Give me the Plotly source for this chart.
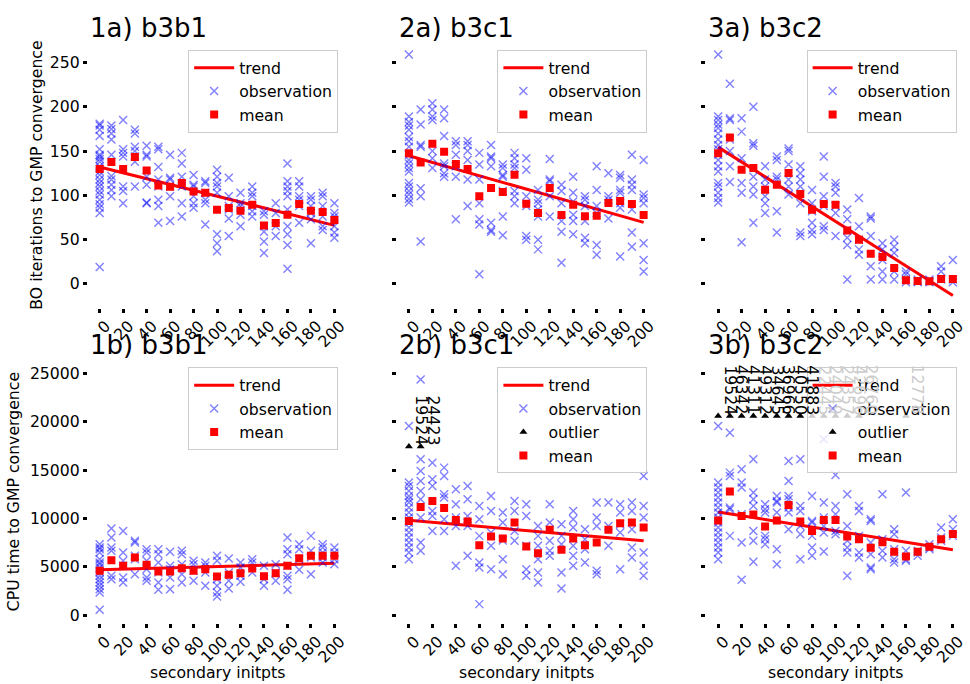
import plotly.graph_objects as go

W, H = 970, 684
x_levels = [0, 10, 20, 30, 40, 50, 60, 70, 80, 90, 100, 110, 120, 130, 140, 150, 160, 170, 180, 190, 200]
x_ticks = [0, 20, 40, 60, 80, 100, 120, 140, 160, 180, 200]
y_ticks_top = [0, 50, 100, 150, 200, 250]
y_ticks_bottom = [0, 5000, 10000, 15000, 20000, 25000]

titles = ["1a) b3b1", "2a) b3c1", "3a) b3c2", "1b) b3b1", "2b) b3c1", "3b) b3c2"]
ylabel_top = "BO iterations to GMP convergence"
ylabel_bottom = "CPU time to GMP convergence"
xlabel = "secondary initpts"

# ---------------- 1a ----------------
obs_1a = [
    [181, 179, 174, 167, 152, 146, 144, 141, 138, 133, 127, 123, 118, 114, 110, 105, 101, 95, 90, 86, 80, 19],
    [179, 175, 170, 163, 146, 122, 118, 112, 106, 99],
    [185, 152, 148, 144, 110, 105, 91],
    [174, 170, 155, 150, 144, 138, 110],
    [156, 146, 144, 121, 112, 92, 91],
    [155, 152, 132, 118, 110, 95, 88, 69],
    [146, 120, 118, 110, 99, 71],
    [148, 136, 121, 110, 91, 76],
    [123, 112, 110, 99, 91, 86],
    [116, 114, 103, 95, 91, 67],
    [129, 121, 114, 110, 103, 56, 46, 37],
    [120, 99, 88, 84, 74, 54],
    [103, 91, 88, 78, 65],
    [110, 103, 99, 88, 82, 76],
    [82, 78, 65, 59, 48, 35],
    [91, 80, 65, 54],
    [136, 116, 110, 105, 99, 84, 65, 56, 44, 17],
    [116, 110, 99, 95, 88, 69],
    [99, 95, 88, 80, 73, 46],
    [103, 99, 88, 76, 65, 61],
    [91, 80, 76, 65, 58, 52],
]
mean_1a = [129.7, 137.6, 129.7, 143.3, 128.2, 111.2, 109.8, 113.9, 104.5, 103.0, 83.8,
           85.7, 82.7, 89.5, 66.1, 68.8, 78.2, 90.2, 82.7, 81.2, 72.2]
trend_1a = [132.0, 66.1]

# ---------------- 2a ----------------
obs_2a = [
    [259, 189, 183, 179, 174, 166, 161, 155, 146, 140, 136, 131, 127, 114, 110, 105, 101, 96, 92],
    [197, 180, 157, 155, 108, 99, 48],
    [204, 197, 189, 185, 150, 142, 131],
    [197, 187, 167, 136, 133, 125, 121],
    [161, 157, 146, 133, 121, 73],
    [161, 157, 150, 140, 118, 88],
    [148, 135, 118, 91, 73, 67, 11],
    [157, 144, 142, 133, 69, 61, 59],
    [135, 131, 123, 121, 105, 76, 55],
    [148, 142, 135, 131, 105, 99, 91],
    [142, 129, 99, 88, 54, 50],
    [106, 95, 91, 84, 76, 50, 39],
    [141, 118, 116, 99, 76],
    [112, 105, 91, 71, 59, 24],
    [121, 103, 93, 78, 71, 56],
    [99, 95, 88, 71, 52, 46],
    [133, 106, 88, 80, 44, 33],
    [125, 99, 95, 74],
    [123, 120, 106, 103, 91, 86, 31],
    [146, 118, 112, 106, 84, 58, 42],
    [140, 101, 97, 91, 46, 27, 14],
]
mean_2a = [147.7, 137.2, 158.3, 149.2, 135.3, 129.7, 98.9, 108.3, 103.8, 123.3, 90.6,
           80.1, 108.3, 77.8, 89.5, 76.3, 77.1, 91.4, 93.6, 90.2, 77.8]
trend_2a = [144.7, 69.5]

# ---------------- 3a ----------------
obs_3a = [
    [259, 189, 185, 180, 176, 170, 163, 157, 152, 146, 140, 133, 127, 114, 110, 103, 97, 92],
    [226, 187, 185, 163, 150, 133, 115],
    [187, 172, 142, 114, 103, 47],
    [200, 159, 156, 121, 110, 101, 69],
    [133, 118, 110, 99, 91, 80],
    [144, 140, 121, 118, 82, 58],
    [153, 150, 135, 118, 110, 101],
    [133, 125, 118, 110, 91, 58, 54],
    [106, 91, 82, 69, 61, 56],
    [144, 121, 99, 88, 65, 61],
    [114, 110, 103, 88, 80, 54],
    [84, 73, 61, 52, 44, 5],
    [97, 65, 50, 39, 33],
    [76, 74, 54, 20, 5],
    [46, 39, 27, 14, 5],
    [50, 42, 35, 14, 5],
    [14, 11, 5, 2],
    [5, 3, 2],
    [5, 3, 2],
    [20, 14, 5],
    [27, 5, 2],
]
mean_3a = [147.7, 165.4, 129.0, 130.8, 106.4, 112.0, 125.2, 101.5, 83.8, 90.2, 89.5,
           60.2, 50.0, 34.2, 30.5, 18.0, 4.1, 3.4, 3.0, 5.6, 5.6]
trend_3a = [154.5, -13.2]

# ---------------- 1b ----------------
obs_1b = [
    [7336, 6991, 6819, 6475, 5786, 5441, 5269, 4925, 4408, 4064, 3720, 3375, 3031, 2686, 2342, 551],
    [8954, 8024, 6991, 6647, 4064, 3720],
    [8713, 6475, 5614, 5097, 3892, 3375],
    [7680, 7508, 6130, 5786, 4236],
    [6819, 6475, 5614, 4753, 3892, 3547],
    [6819, 6302, 5441, 4408, 3375, 2617],
    [6544, 5097, 4753, 3892, 2686],
    [6647, 6302, 5269, 4236, 3375],
    [5614, 5269, 4580, 3547],
    [5441, 5097, 4408, 3031],
    [6130, 5614, 3720, 3031, 2342, 1929],
    [5855, 4408, 3547, 2755],
    [5441, 4925, 4064, 3444],
    [5786, 5441, 4408],
    [5097, 3720, 3031],
    [5269, 4408, 3547],
    [8024, 6819, 6302, 5097, 4064, 3720, 2617],
    [7336, 6819, 5786, 4684],
    [8197, 6647, 5958, 4236],
    [7336, 6991, 6475, 5958, 5441],
    [6991, 6475, 5786, 5269],
]
mean_1b = [4580, 5683, 5097, 5958, 5200, 4512, 4512, 4856, 4580, 4753, 3995,
           4167, 4339, 4822, 4029, 4339, 5097, 5889, 6130, 6130, 6130]
trend_1b = [4684, 5373]

# ---------------- 2b ----------------
obs_2b = [
    [19562, 13707, 13363, 12846, 12330, 11985, 11641, 11124, 10608, 10091, 9574, 9058, 8541, 8024, 7508, 6991, 6475, 5786],
    [24383, 16118, 14913, 13879, 12846, 11985, 10091, 7508, 6647],
    [15773, 14051, 13363, 10780, 10263, 8713],
    [15257, 14396, 12502, 12158, 9919, 8713],
    [13018, 11469, 10091, 9230, 5097],
    [13363, 11985, 10263, 9230, 6130],
    [11296, 9919, 8197, 5441, 4925, 1136],
    [12330, 10780, 8541, 7163, 4753],
    [10608, 9574, 7714, 5786, 4236],
    [11813, 10780, 8713, 7680],
    [11469, 10263, 7163, 4753, 4064],
    [9230, 8197, 7163, 5786, 4408, 3375],
    [11469, 9574, 7680, 6647, 6130],
    [9402, 8197, 7335, 4408, 2755],
    [10780, 9919, 9058, 7163, 6130, 5097],
    [8885, 7852, 6819, 5441],
    [11641, 10091, 9230, 4580, 4236],
    [11641, 9230, 7163],
    [11469, 10608, 9402, 8541, 4753],
    [11641, 10780, 8885, 6991, 5958],
    [14396, 11296, 10091, 6475, 5097, 4064],
]
mean_2b = [9747, 11193, 11813, 11090, 9850, 9678, 7232, 8128, 7921, 9574, 7095,
           6406, 8817, 6750, 7921, 7232, 7508, 8817, 9506, 9574, 9058]
trend_2b = [9815, 7680]
outlier_x_2b = [0, 10]
outlier_y_2b = [17430, 17430]
outlier_text_2b = ["19524", "24423"]

# ---------------- 3b ----------------
obs_3b = [
    [19562, 13707, 13190, 12674, 12158, 11641, 11124, 10608, 10091, 9574, 9058, 8541, 8024, 7508, 6991, 6475, 5786],
    [18873, 14740, 14396, 11124, 10952, 8197],
    [15085, 13707, 13190, 10436, 7508, 3651],
    [16118, 12674, 11985, 11296, 8713, 7680, 5510],
    [11469, 10952, 10608, 8197, 7852, 7335],
    [12330, 11813, 11641, 10608, 6819, 5269],
    [15946, 13879, 12330, 11985, 11124, 10608, 8885],
    [16118, 11296, 10780, 9230, 8369, 5786],
    [12330, 9747, 9574, 8197, 6991, 6130],
    [18184, 11641, 10091, 9230, 8541, 6578],
    [14499, 11296, 10436, 8713, 8369],
    [12502, 9230, 7680, 6991, 6475, 4064],
    [11296, 10780, 8197, 6475, 5958],
    [9919, 9747, 7508, 6302, 4925, 4753],
    [12502, 7852, 6647, 5958],
    [8885, 8369, 6819, 5786, 5441],
    [12674, 6647, 5786, 5614],
    [6647, 6475, 6130],
    [7336, 6991, 6819],
    [9058, 8024, 7680],
    [9919, 8885, 8197],
]
mean_3b = [9781, 12777, 10263, 10401, 9161, 9781, 11400, 9678, 8713, 9850, 9850,
           8128, 7852, 6957, 7542, 6544, 6061, 6544, 7060, 7852, 8403]
trend_3b = [10676, 6750]
outlier_x_3b = [0, 10, 20, 30, 40, 50, 60, 70, 80, 90, 100, 110, 120, 160]
outlier_y_3b = [20595, 20595, 20595, 20595, 20595, 20595, 20595, 20595, 20595, 20595, 20595, 20595, 20595, 20595]
outlier_text_3b = ["19524", "46342", "41311", "49312", "34645", "36966", "40550", "41883",
                   "22445", "24049", "24357", "42696", "26760", "12778"]

panels = [
    (obs_1a, mean_1a, trend_1a, None),
    (obs_2a, mean_2a, trend_2a, None),
    (obs_3a, mean_3a, trend_3a, None),
    (obs_1b, mean_1b, trend_1b, None),
    (obs_2b, mean_2b, trend_2b, (outlier_x_2b, outlier_y_2b, outlier_text_2b)),
    (obs_3b, mean_3b, trend_3b, (outlier_x_3b, outlier_y_3b, outlier_text_3b)),
]

# ---------------- layout geometry (pixels) ----------------
col_left = [88.2, 398.4, 708.6]
col_w = 259.0
row_top = [42.0, 360.0]
row_bot = [308.0, 624.0]
y_range_top = [-26.7, 273.3]
y_range_bot = [-826.0, 26446.0]
X_RANGE = [-10, 210]
LEG_W = 150.0
FONT = "DejaVu Sans"
FS = 15.7

OBS_COLOR = "rgba(0,0,255,0.5)"
RED = "#ff0000"

fig = go.Figure()
annotations = []
layout = dict(
    width=W, height=H, margin=dict(l=0, r=0, t=0, b=0),
    paper_bgcolor="white", plot_bgcolor="white",
    font=dict(family=FONT, size=FS, color="black"),
    showlegend=True,
)

for i, (obs, mean, trend, outl) in enumerate(panels):
    r, c = divmod(i, 3)
    ax = "" if i == 0 else str(i + 1)
    xref, yref = "x" + ax, "y" + ax
    leg = "legend" + ax
    left = col_left[c]
    right = left + col_w
    top = row_top[r]
    bot = row_bot[r]
    leg_left_px = right - 8 - LEG_W

    # trend
    fig.add_trace(go.Scatter(
        x=[x_levels[0], x_levels[-1]], y=trend, mode="lines", name="trend",
        line=dict(color=RED, width=3), xaxis=xref, yaxis=yref, legend=leg))
    # observations
    xs, ys = [], []
    for xv, vals in zip(x_levels, obs):
        for v in vals:
            xs.append(xv)
            ys.append(v)
    fig.add_trace(go.Scatter(
        x=xs, y=ys, mode="markers", name="observation",
        marker=dict(symbol="x-thin", size=8, color=OBS_COLOR,
                    line=dict(color=OBS_COLOR, width=1.4)),
        xaxis=xref, yaxis=yref, legend=leg))
    if outl is not None:
        ox, oy, ot = outl
        fig.add_trace(go.Scatter(
            x=ox, y=oy, mode="markers", name="outlier",
            marker=dict(symbol="triangle-up", size=7, color="black"),
            xaxis=xref, yaxis=yref, legend=leg))
        for xv, yv, t in zip(ox, oy, ot):
            px = left + (xv - X_RANGE[0]) * col_w / (X_RANGE[1] - X_RANGE[0])
            under_legend = px + 4 >= leg_left_px
            annotations.append(dict(
                x=xv, y=yv, xref=xref, yref=yref, text=t, textangle=90,
                showarrow=False, xanchor="left", yanchor="bottom", xshift=2,
                borderpad=0,
                font=dict(size=FS, color="#cccccc" if under_legend else "black", family=FONT)))
    fig.add_trace(go.Scatter(
        x=x_levels, y=mean, mode="markers", name="mean",
        marker=dict(symbol="square", size=8, color=RED),
        xaxis=xref, yaxis=yref, legend=leg))

    layout["xaxis" + ax] = dict(
        domain=[left / W, right / W], range=X_RANGE, anchor=yref,
        tickmode="array", tickvals=x_ticks, ticktext=[str(t) for t in x_ticks],
        tickangle=-45, ticklabelshift=6, ticklabelstandoff=-2,
        ticks="outside", ticklen=4, tickwidth=3, tickcolor="black",
        showline=False, showgrid=False, zeroline=False,
        tickfont=dict(size=FS, family=FONT, color="black"))
    yt = y_ticks_top if r == 0 else y_ticks_bottom
    layout["yaxis" + ax] = dict(
        domain=[1 - bot / H, 1 - top / H],
        range=y_range_top if r == 0 else y_range_bot, anchor=xref,
        tickmode="array", tickvals=yt, ticktext=[str(t) for t in yt],
        showticklabels=(c == 0),
        ticks="outside", ticklen=4, tickwidth=3, tickcolor="black",
        showline=False, showgrid=False, zeroline=False,
        tickfont=dict(size=FS, family=FONT, color="black"))
    layout[leg] = dict(
        x=(right - 8) / W, y=1 - (top + 8) / H, xanchor="right", yanchor="top",
        itemwidth=40,
        bgcolor="rgba(255,255,255,0.8)", bordercolor="#cccccc", borderwidth=1,
        font=dict(size=FS, family=FONT, color="black"))
    # subplot title
    annotations.append(dict(
        x=left / W, y=1 - (top - 14) / H, xref="paper", yref="paper",
        text=titles[i], showarrow=False, xanchor="left", yanchor="middle",
        font=dict(size=26, family=FONT, color="black")))
    if r == 1:
        annotations.append(dict(
            x=(left + col_w / 2) / W, y=1 - 673 / H, xref="paper", yref="paper",
            text=xlabel, showarrow=False, xanchor="center", yanchor="middle",
            font=dict(size=FS, family=FONT, color="black")))

annotations.append(dict(
    x=37 / W, y=1 - (row_top[0] + row_bot[0]) / 2 / H, xref="paper", yref="paper",
    text=ylabel_top, textangle=-90, showarrow=False, xanchor="center", yanchor="middle",
    font=dict(size=FS, family=FONT, color="black")))
annotations.append(dict(
    x=13 / W, y=1 - (row_top[1] + row_bot[1]) / 2 / H, xref="paper", yref="paper",
    text=ylabel_bottom, textangle=-90, showarrow=False, xanchor="center", yanchor="middle",
    font=dict(size=FS, family=FONT, color="black")))

layout["annotations"] = annotations
fig.update_layout(**layout)
fig.write_html("out.html")
